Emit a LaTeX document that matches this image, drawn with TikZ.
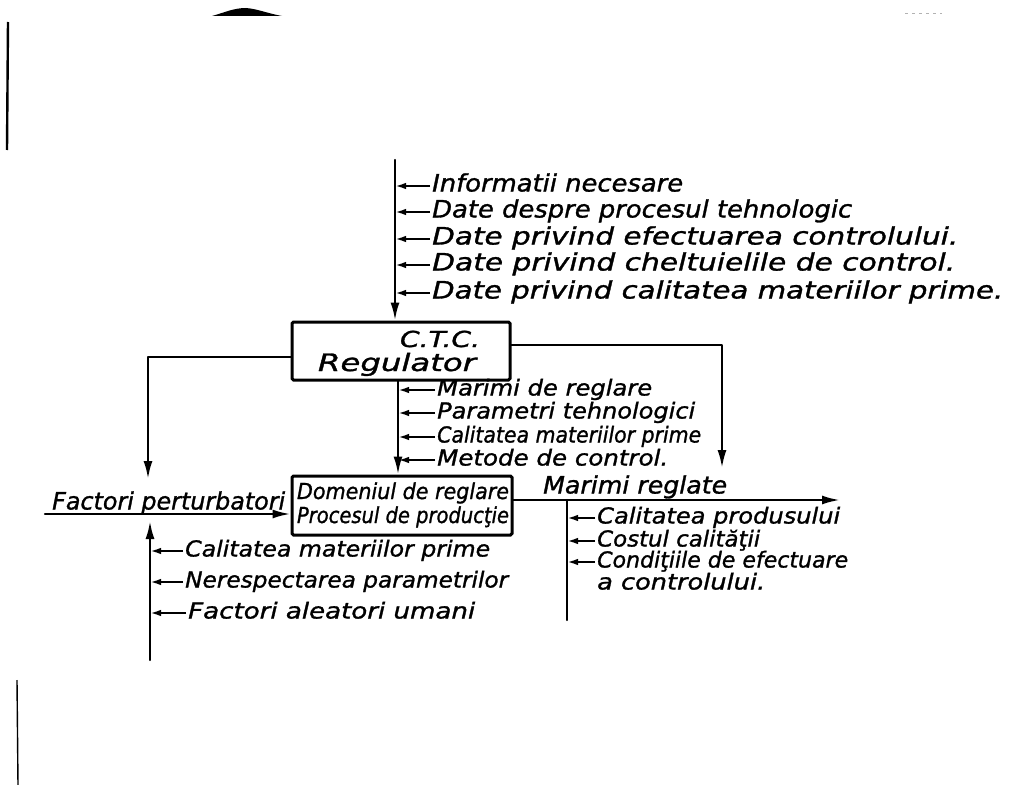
\documentclass[tikz,border=0pt]{standalone}
\usepackage{fontspec}
\usetikzlibrary{arrows.meta}
\newfontfamily\hand{DejaVu Sans}[FakeBold=1.2]
% lettering squeezed or widened to a given width, height kept
\newcommand\lw[2]{\resizebox{#1bp}{\height}{#2}}

\begin{document}
\begin{tikzpicture}[x=1bp,y=-1bp,
  ink/.style={line width=2.4bp, line cap=round, line join=round},
  arr/.style={ink, -{Latex[length=18bp,width=9bp]}},
  tick/.style={line width=2.1bp, -{Latex[length=11bp,width=6.5bp]}},
  box/.style={draw, line width=3bp, rounded corners=1.5bp, inner sep=0pt},
  big/.style={font=\hand\itshape\fontsize{24bp}{28bp}\selectfont},
  mid/.style={font=\hand\itshape\fontsize{22bp}{26bp}\selectfont},
  lbl/.style={anchor=west, inner sep=0pt, text height=16bp, text depth=5bp, mid},
  blbl/.style={anchor=base, inner sep=0pt, mid},
]
\useasboundingbox (0,0) rectangle (1020,785);

% page edge marks
\draw[line width=2.4bp] (8,22) -- (7,150);
\draw[line width=1.4bp] (17,680) -- (18,785);
\fill (212,16) .. controls (226,12) and (234,8) .. (246,8)
  .. controls (258,9) and (266,13) .. (282,16) -- cycle;
\draw[gray!60, line width=0.8bp, dash pattern=on 3bp off 4bp] (905,13) -- (942,13);

% blocks
\node[box, minimum width=218bp, minimum height=58bp] (ctc) at (401,351) {};
\node[blbl] (ctc1) at (440,347) {\lw{80}{C.T.C.}};
\node[blbl, big] (ctc2) at (397,371) {\lw{158}{Regulator}};

\node[box, minimum width=220bp, minimum height=59bp] (dom) at (402,505.5) {};
\node[blbl] (dom1) at (403,499) {\lw{212}{Domeniul de reglare}};
\node[blbl] (dom2) at (403,523) {\lw{212}{Procesul de producţie}};

% incoming information to the regulator
\coordinate (in) at (395,160);
\draw[arr] (in) -- (in |- ctc.north);
\node[lbl, big] (i1) at (432,186) {\lw{251}{Informatii necesare}};
\node[lbl, big] (i2) at (432,212) {\lw{420}{Date despre procesul tehnologic}};
\node[lbl, big] (i3) at (432,239) {\lw{526}{Date privind efectuarea controlului.}};
\node[lbl, big] (i4) at (432,265) {\lw{523}{Date privind cheltuielile de control.}};
\node[lbl, big] (i5) at (432,293) {\lw{571}{Date privind calitatea materiilor prime.}};
\foreach \n in {i1,i2,i3,i4,i5}
  \draw[tick] ([xshift=-2bp]\n.west) -- (\n.west -| in);

% regulator to process
\coordinate (mv) at (398,0);
\draw[arr] (ctc.south -| mv) -- (dom.north -| mv);
\node[lbl] (m1) at (437,390) {\lw{215}{Marimi de reglare}};
\node[lbl] (m2) at (437,413) {\lw{258}{Parametri tehnologici}};
\node[lbl] (m3) at (437,437) {\lw{264}{Calitatea materiilor prime}};
\node[lbl] (m4) at (437,460) {\lw{231}{Metode de control.}};
\foreach \n in {m1,m2,m3,m4}
  \draw[tick] ([xshift=-2bp]\n.west) -- (\n.west -| mv);

% side branches of the regulator
\coordinate (pl) at (148,357);
\coordinate (pld) at (148,479);
\draw[arr] (ctc.west |- pl) -- (pl) -- (pld);
\coordinate (pr) at (722,345);
\coordinate (prd) at (722,468);
\draw[arr] (ctc.east |- pr) -- (pr) -- (prd);

% disturbances
\coordinate (fl) at (45,514);
\draw[arr] (fl) -- (dom.west |- fl);
\node[lbl, big] (fp) at (52,504) {\lw{233}{Factori perturbatori}};
\coordinate (lb) at (150,660);
\coordinate (lbt) at (150,521);
\draw[arr] (lb) -- (lbt);
\node[lbl] (d1) at (185,551) {\lw{305}{Calitatea materiilor prime}};
\node[lbl] (d2) at (185,582) {\lw{323}{Nerespectarea parametrilor}};
\node[lbl] (d3) at (188,613) {\lw{287}{Factori aleatori umani}};
\foreach \n in {d1,d2,d3}
  \draw[tick] ([xshift=-2bp]\n.west) -- (\n.west -| lb);

% regulated outputs
\coordinate (out) at (840,500);
\draw[arr] (dom.east |- out) -- (out);
\node[lbl, big] (mr) at (543,488) {\lw{184}{Marimi reglate}};
\coordinate (rv) at (567,500);
\coordinate (rvb) at (567,620);
\draw[ink] (rv) -- (rvb);
\node[lbl] (o1) at (597,518) {\lw{243}{Calitatea produsului}};
\node[lbl] (o2) at (597,541) {\lw{163}{Costul calităţii}};
\node[lbl] (o3) at (597,562) {\lw{251}{Condiţiile de efectuare}};
\node[lbl] (o4) at (597,584) {\lw{168}{a controlului.}};
\foreach \n in {o1,o2,o3}
  \draw[tick] ([xshift=-2bp]\n.west) -- (\n.west -| rv);
\end{tikzpicture}
\end{document}
